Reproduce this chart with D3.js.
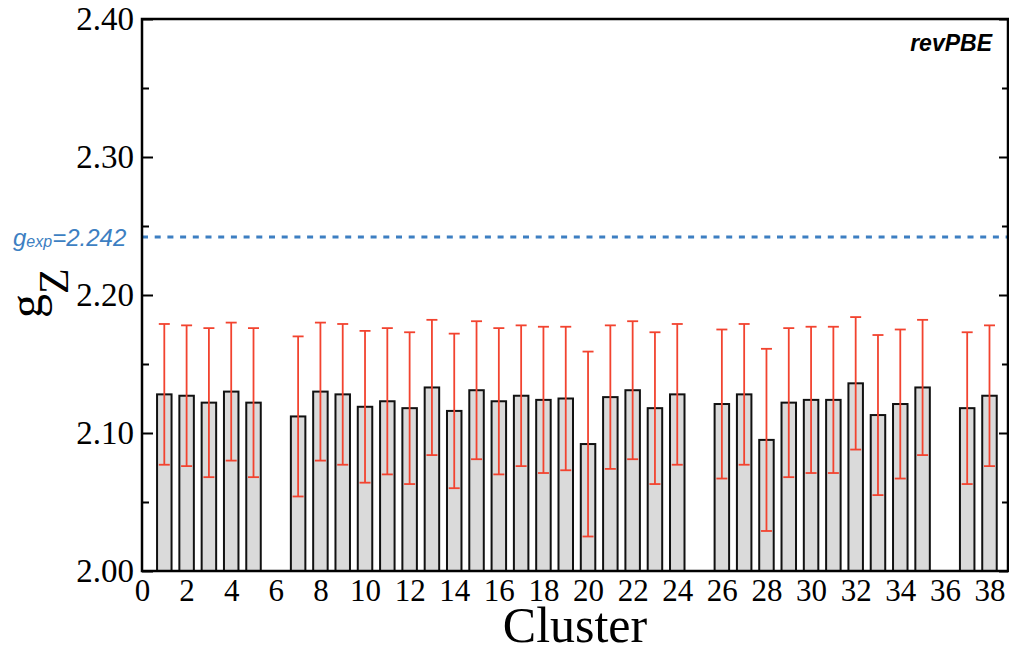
<!DOCTYPE html>
<html>
<head>
<meta charset="utf-8">
<script src="https://cdn.jsdelivr.net/npm/d3@7"></script>
<style>
  body { margin: 0; background: #fff; }
  svg { display: block; }
</style>
</head>
<body>
<script>
// cluster index, g_Z mean and its spread (half-width of error bar)
const clusters = [1, 2, 3, 4, 5, 7, 8, 9, 10, 11, 12, 13, 14, 15, 16, 17, 18, 19, 20,
                  21, 22, 23, 24, 26, 27, 28, 29, 30, 31, 32, 33, 34, 35, 37, 38];
const gValues = [2.128, 2.127, 2.122, 2.130, 2.122, 2.112, 2.130, 2.128, 2.119, 2.123,
                 2.118, 2.133, 2.116, 2.131, 2.123, 2.127, 2.124, 2.125, 2.092, 2.126,
                 2.131, 2.118, 2.128, 2.121, 2.128, 2.095, 2.122, 2.124, 2.124, 2.136,
                 2.113, 2.121, 2.133, 2.118, 2.127];
const gErrors = [0.051, 0.051, 0.054, 0.050, 0.054, 0.058, 0.050, 0.051, 0.055, 0.053,
                 0.055, 0.049, 0.056, 0.050, 0.053, 0.051, 0.053, 0.052, 0.067, 0.052,
                 0.050, 0.055, 0.051, 0.054, 0.051, 0.066, 0.054, 0.053, 0.053, 0.048,
                 0.058, 0.054, 0.049, 0.055, 0.051];
const gExp = 2.242;

const xTicks = d3.range(0, 39, 2);
const yMajor = [2.00, 2.10, 2.20, 2.30, 2.40];
const yMinor = [2.05, 2.15, 2.25, 2.35];

const data = clusters.map((c, i) => ({ c: c, v: gValues[i], e: gErrors[i] }));

const W = 1009, H = 653;
const mLeft = 142, mRight = 1008, mTop = 19, mBottom = 571;

const x = d3.scaleLinear().domain([0, 38.83]).range([mLeft, mRight]);
const y = d3.scaleLinear().domain([2.0, 2.4]).range([mBottom, mTop]);

const serif = "'Liberation Serif', 'Times New Roman', serif";
const sans = "'Liberation Sans', Arial, Helvetica, sans-serif";

const svg = d3.select("body").append("svg")
  .attr("width", W)
  .attr("height", H);

const barW = x(0.65) - x(0);

// bars
svg.append("g").selectAll("rect")
  .data(data)
  .enter()
  .append("rect")
  .attr("x", d => x(d.c) - barW / 2)
  .attr("y", d => y(d.v))
  .attr("width", barW)
  .attr("height", d => y(2.0) - y(d.v))
  .attr("fill", "#dadada")
  .attr("stroke", "#111")
  .attr("stroke-width", 2);

// error bars
const err = svg.append("g")
  .attr("stroke", "#f2432f")
  .attr("stroke-width", 1.8);
const capW = 5.5;
err.selectAll("line.v")
  .data(data).enter().append("line")
  .attr("class", "v")
  .attr("x1", d => x(d.c)).attr("x2", d => x(d.c))
  .attr("y1", d => y(d.v + d.e)).attr("y2", d => y(d.v - d.e));
err.selectAll("line.t")
  .data(data).enter().append("line")
  .attr("class", "t")
  .attr("x1", d => x(d.c) - capW).attr("x2", d => x(d.c) + capW)
  .attr("y1", d => y(d.v + d.e)).attr("y2", d => y(d.v + d.e));
err.selectAll("line.b")
  .data(data).enter().append("line")
  .attr("class", "b")
  .attr("x1", d => x(d.c) - capW).attr("x2", d => x(d.c) + capW)
  .attr("y1", d => y(d.v - d.e)).attr("y2", d => y(d.v - d.e));

// experimental value
svg.append("line")
  .attr("x1", mLeft).attr("x2", mRight)
  .attr("y1", y(gExp)).attr("y2", y(gExp))
  .attr("stroke", "#3d7fc2")
  .attr("stroke-width", 3)
  .attr("stroke-dasharray", "6,6.7");

const expLabel = svg.append("text")
  .attr("x", 13)
  .attr("y", y(gExp) + 9)
  .attr("fill", "#3d7fc2")
  .style("font-family", sans)
  .style("font-style", "italic")
  .style("font-size", "24px");
expLabel.append("tspan").text("g");
expLabel.append("tspan").text("exp").style("font-size", "16px").attr("dy", 1);
expLabel.append("tspan").text("=" + gExp.toFixed(3)).attr("dy", -1);

// axes
const xAxis = d3.axisBottom(x)
  .tickValues(xTicks)
  .tickSize(0)
  .tickPadding(8)
  .tickFormat(d3.format("d"));
svg.append("g")
  .attr("transform", "translate(0," + mBottom + ")")
  .call(xAxis)
  .call(g => g.select(".domain").remove())
  .selectAll("text")
  .style("font-family", serif)
  .style("font-size", "31px")
  .attr("fill", "#000");

const yAxis = d3.axisLeft(y)
  .tickValues(yMajor)
  .tickSize(-11)
  .tickPadding(8)
  .tickFormat(d3.format(".2f"));
const gy = svg.append("g")
  .attr("transform", "translate(" + mLeft + ",0)")
  .call(yAxis)
  .call(g => g.select(".domain").remove());
gy.selectAll("text")
  .style("font-family", serif)
  .style("font-size", "33px")
  .attr("fill", "#000");
gy.selectAll("line").attr("stroke", "#000").attr("stroke-width", 2);

svg.append("g")
  .attr("transform", "translate(" + mLeft + ",0)")
  .call(d3.axisLeft(y).tickValues(yMinor).tickSize(-7).tickFormat(""))
  .call(g => g.select(".domain").remove())
  .selectAll("line").attr("stroke", "#000").attr("stroke-width", 2);

svg.append("g")
  .attr("transform", "translate(" + mRight + ",0)")
  .call(d3.axisRight(y).tickValues(yMajor).tickSize(-9).tickFormat(""))
  .call(g => g.select(".domain").remove())
  .selectAll("line").attr("stroke", "#000").attr("stroke-width", 2);

svg.append("g")
  .attr("transform", "translate(" + mRight + ",0)")
  .call(d3.axisRight(y).tickValues(yMinor).tickSize(-6).tickFormat(""))
  .call(g => g.select(".domain").remove())
  .selectAll("line").attr("stroke", "#000").attr("stroke-width", 2);

// frame
svg.append("rect")
  .attr("x", mLeft).attr("y", mTop)
  .attr("width", mRight - mLeft).attr("height", mBottom - mTop)
  .attr("fill", "none")
  .attr("stroke", "#000")
  .attr("stroke-width", 2.5);

// axis titles
svg.append("text")
  .attr("x", 575)
  .attr("y", 642)
  .attr("text-anchor", "middle")
  .style("font-family", serif)
  .style("font-size", "50px")
  .text("Cluster");

const yTitle = svg.append("text")
  .attr("transform", "translate(42,318) rotate(-90)")
  .style("font-family", serif)
  .style("font-size", "48px");
yTitle.append("tspan").text("g");
yTitle.append("tspan").text("Z").style("font-size", "42px").attr("dy", 26);

svg.append("text")
  .attr("x", 992)
  .attr("y", 51)
  .attr("text-anchor", "end")
  .style("font-family", sans)
  .style("font-style", "italic")
  .style("font-weight", "bold")
  .style("font-size", "23px")
  .text("revPBE");
</script>
</body>
</html>
